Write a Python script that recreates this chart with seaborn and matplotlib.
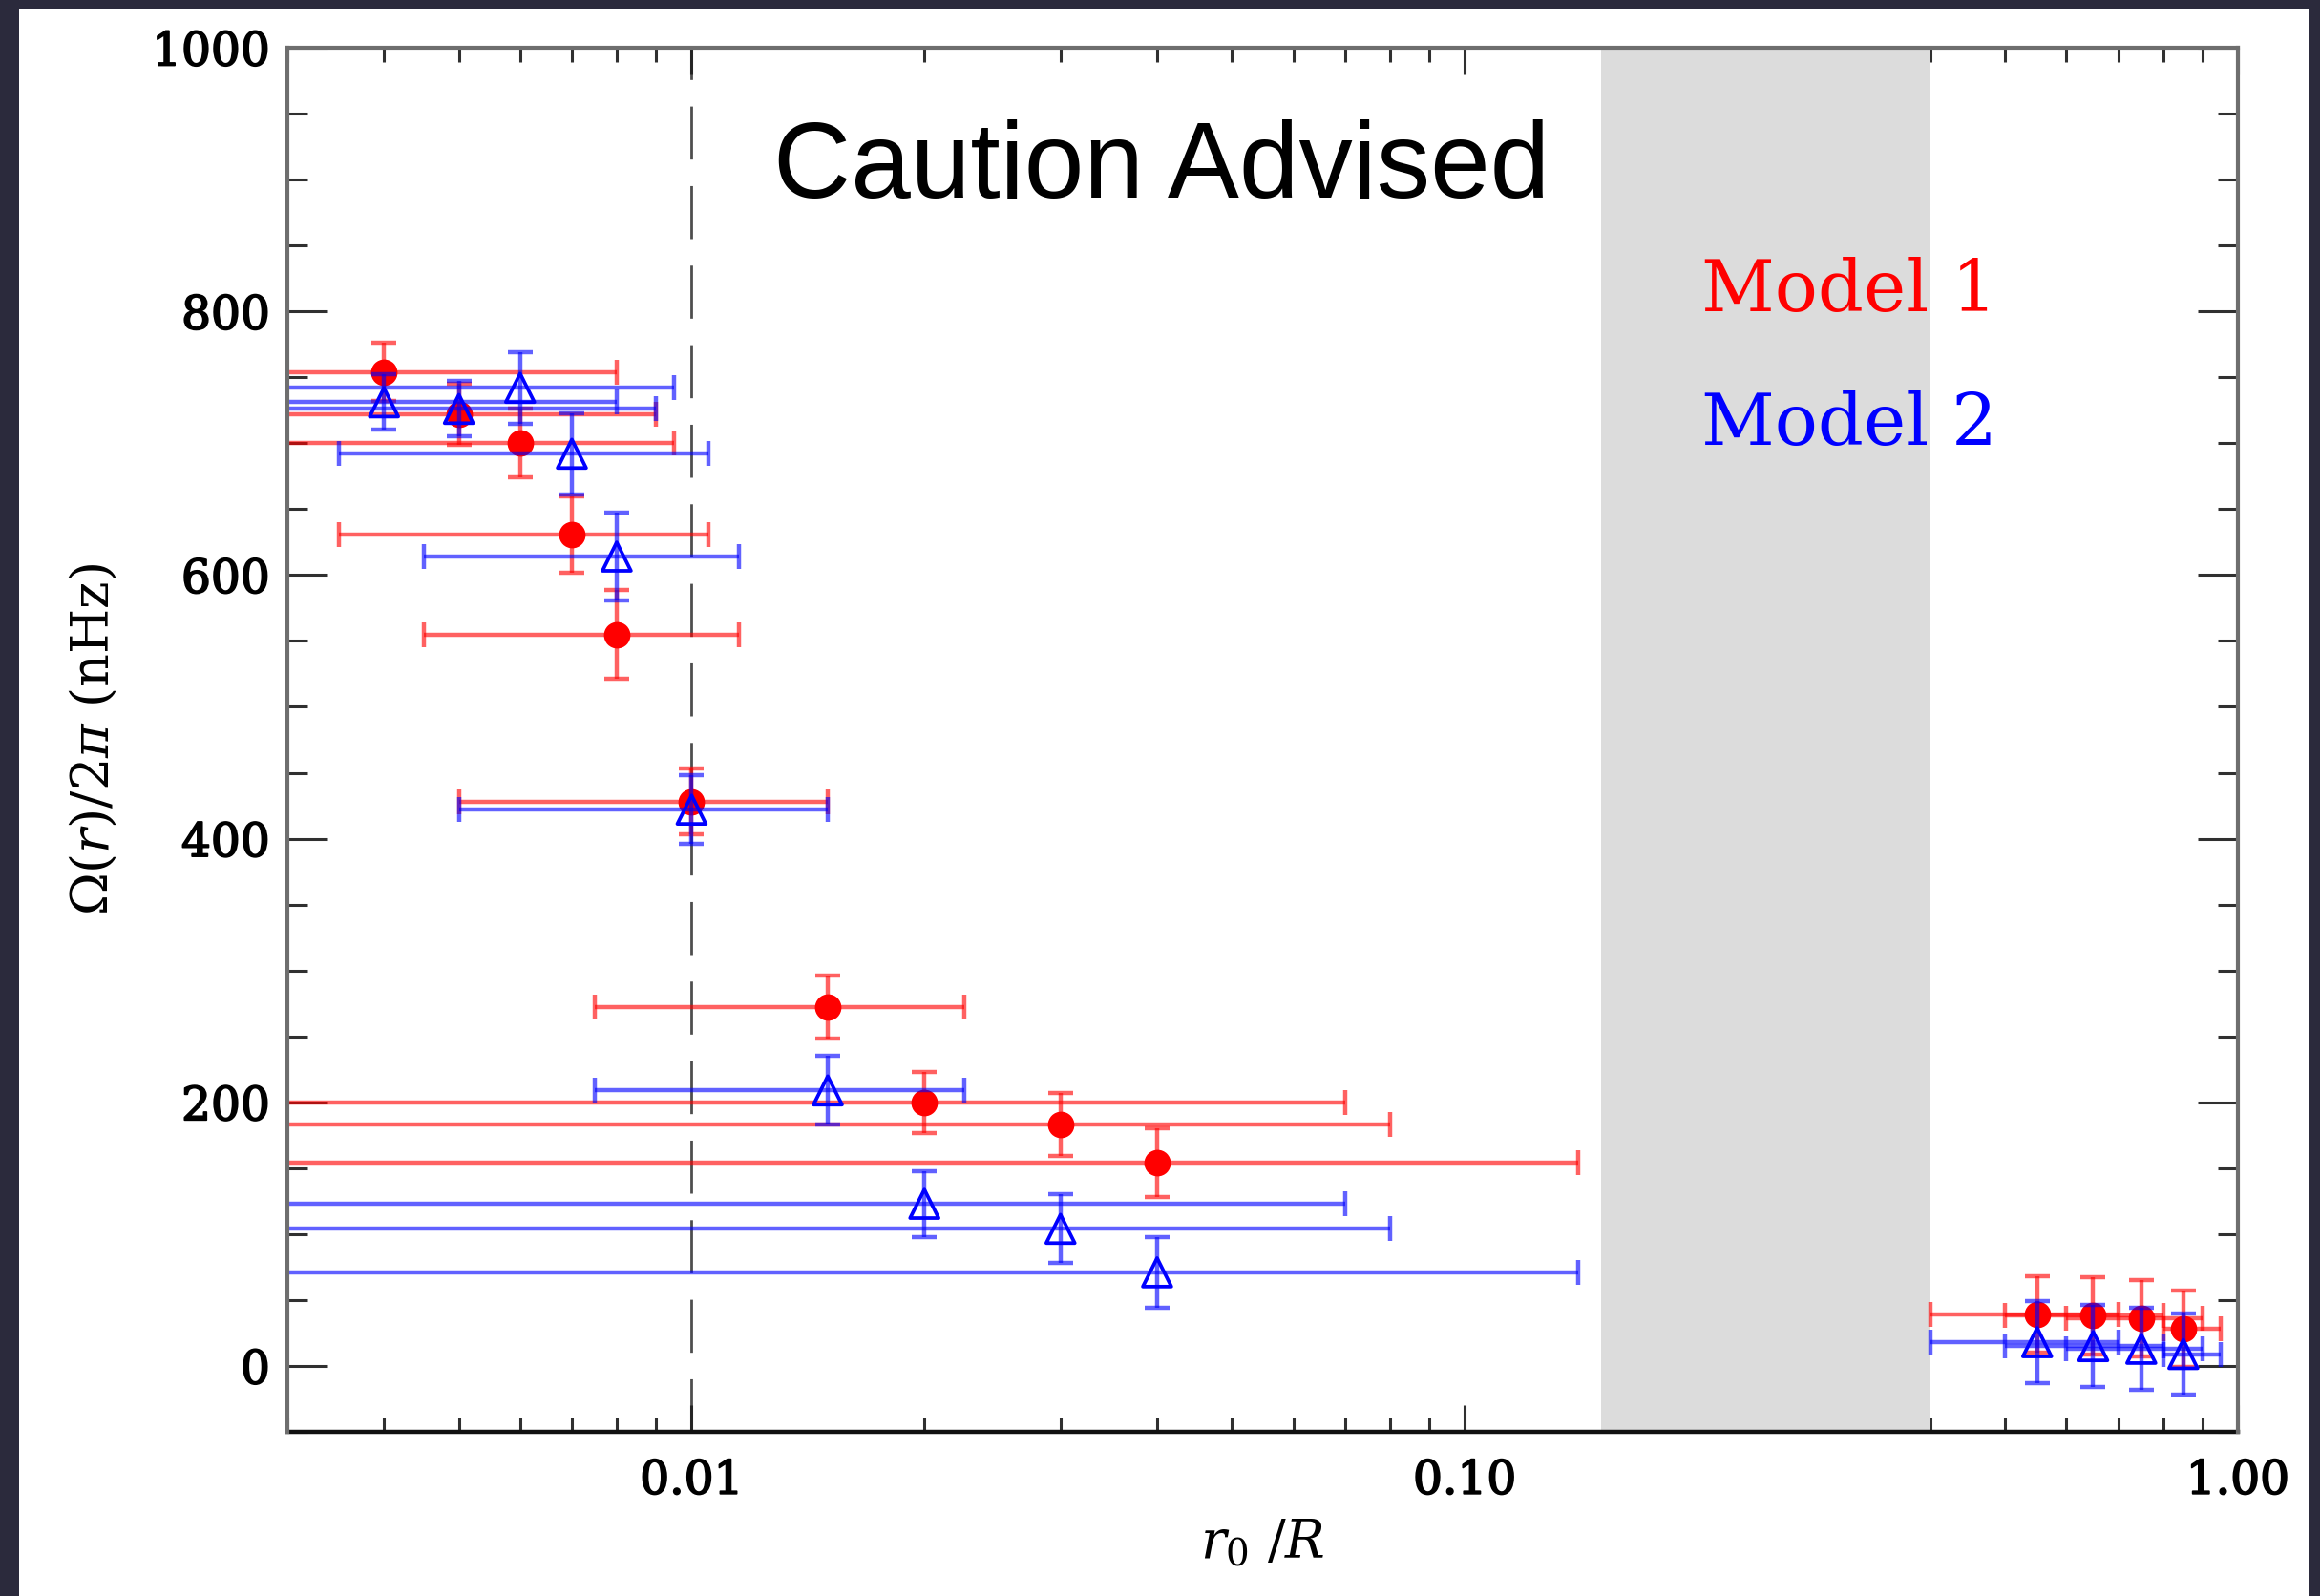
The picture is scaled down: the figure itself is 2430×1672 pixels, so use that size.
import numpy as np
import pandas as pd
import matplotlib
matplotlib.use("Agg")
import matplotlib.pyplot as plt
import matplotlib.patheffects as pe
import seaborn as sns
from matplotlib.patches import Rectangle
from matplotlib.ticker import FixedLocator, FixedFormatter, LogLocator, NullFormatter, MultipleLocator

# ---------------- data ----------------
r0 = [0.004, 0.005, 0.006, 0.007, 0.008, 0.010, 0.015, 0.020, 0.030, 0.040, 0.55, 0.65, 0.75, 0.85]
r0_lo = [0.001, 0.001, 0.0025, 0.0035, 0.0045, 0.005, 0.0075, 0.001, 0.001, 0.001, 0.40, 0.50, 0.60, 0.80]
r0_hi = [0.008, 0.009, 0.0095, 0.0105, 0.0115, 0.015, 0.0225, 0.070, 0.080, 0.140, 0.70, 0.80, 0.90, 0.95]

omega_m1 = [754, 722, 700, 631, 555, 428, 272, 200, 183, 154, 39, 38, 36, 28]
err_m1 = [22, 23, 26, 29, 34, 25, 24, 23, 24, 26, 29, 29, 29, 29]

omega_m2 = [731, 726, 742, 692, 614, 422, 209, 123, 104, 71, 18, 15, 13, 9]
err_m2 = [21, 21, 27, 31, 33, 26, 26, 25, 26, 27, 31, 31, 31, 31]

model_names = ["Model 1", "Model 2"]
y_ticks = [0, 200, 400, 600, 800, 1000]
x_ticks = [0.01, 0.1, 1.0]
x_tick_labels = ["0.01", "0.10", "1.00"]
caution_zone = [0.15, 0.4]
resolution_limit = 0.01
annotation = "Caution Advised"

df = pd.DataFrame({
    "r0": r0 * 2,
    "lo": r0_lo * 2,
    "hi": r0_hi * 2,
    "omega": omega_m1 + omega_m2,
    "err": err_m1 + err_m2,
    "model": [model_names[0]] * len(r0) + [model_names[1]] * len(r0),
})

# ---------------- style ----------------
sns.set_theme(style="ticks")
plt.rcParams["font.family"] = ["DejaVu Serif"]
plt.rcParams["mathtext.fontset"] = "dejavuserif"

W, H = 2430, 1672
fig = plt.figure(figsize=(W / 100, H / 100), dpi=100, facecolor="#2b2a3c")
fig.add_artist(Rectangle((20 / W, 0), (2418 - 20) / W, (H - 9) / H,
                         transform=fig.transFigure, facecolor="white",
                         edgecolor="none", zorder=0))

L, R, T, B = 301, 2344, 50, 1500
ax = fig.add_axes([L / W, 1 - B / H, (R - L) / W, (B - T) / H])
ax.set_facecolor("white")
ax.set_xscale("log")
ax.set_xlim(0.003, 1.0)
ax.set_ylim(-50, 1000)

ax.axvspan(caution_zone[0], caution_zone[1], color="#dcdcdc", lw=0, zorder=2.05)
ax.axvline(resolution_limit, color="#222222", lw=2, alpha=0.8, dashes=(20, 10), zorder=1.5)

styles = {
    "Model 1": dict(color="red", marker="o", s=20 ** 2, fill=True),
    "Model 2": dict(color="blue", marker="^", s=21.5 ** 2, fill=False),
}
z = 3
for name in model_names:
    d = df[df["model"] == name]
    st = styles[name]
    xerr = np.vstack([d["r0"] - d["lo"], d["hi"] - d["r0"]])
    ax.errorbar(d["r0"], d["omega"], xerr=xerr, yerr=d["err"], fmt="none",
                ecolor=st["color"], elinewidth=3.2, capsize=9.5, capthick=3.2,
                alpha=0.62, zorder=z)
    if st["fill"]:
        sns.scatterplot(x=d["r0"].values, y=d["omega"].values, ax=ax,
                        marker=st["marker"], s=st["s"], color=st["color"],
                        linewidth=0, zorder=z + 1, legend=False)
    else:
        sns.scatterplot(x=d["r0"].values, y=d["omega"].values, ax=ax,
                        marker=st["marker"], s=st["s"], facecolors="none",
                        edgecolors=st["color"], linewidths=2.7,
                        zorder=z + 1, legend=False)
    z += 2

# ---------------- axes ----------------
ax.xaxis.set_major_locator(FixedLocator(x_ticks))
ax.xaxis.set_major_formatter(FixedFormatter(x_tick_labels))
ax.xaxis.set_minor_locator(LogLocator(base=10, subs=np.arange(2, 10), numticks=20))
ax.xaxis.set_minor_formatter(NullFormatter())
ax.yaxis.set_major_locator(FixedLocator(y_ticks))
ax.yaxis.set_minor_locator(MultipleLocator(50))

tick_col = "#303030"
ax.tick_params(axis="y", which="major", direction="in", length=30, width=2.2,
               color=tick_col, left=True, right=True, pad=13, labelsize=35,
               labelcolor="black")
ax.tick_params(axis="y", which="minor", direction="in", length=15, width=2.2,
               color=tick_col, left=True, right=True)
ax.tick_params(axis="x", which="major", direction="in", length=20, width=2.2,
               color=tick_col, bottom=True, top=True, pad=20, labelsize=35,
               labelcolor="black")
ax.tick_params(axis="x", which="minor", direction="in", length=11, width=2.2,
               color=tick_col, bottom=True, top=True)

bold_fx = [pe.withStroke(linewidth=1.3, foreground="black")]
for lab in ax.get_xticklabels() + ax.get_yticklabels():
    lab.set_path_effects(bold_fx)

for side in ["left", "right", "top"]:
    ax.spines[side].set_color("#6e6e6e")
    ax.spines[side].set_linewidth(3.0)
    ax.spines[side].set_zorder(6)
ax.spines["bottom"].set_color("#111111")
ax.spines["bottom"].set_linewidth(3.2)

ax.set_ylabel(r"$\Omega(r)/2\pi$ (nHz)", fontsize=39, color="black", va="center")
ax.yaxis.set_label_coords(-0.0998, 0.5)
ax.set_xlabel(r"$r_0\ /R$", fontsize=40, color="black", va="baseline")
ax.xaxis.set_label_coords(0.5, -0.0917)

ax.text(0.4484, 0.8917, annotation, transform=ax.transAxes, ha="center",
        va="baseline", fontsize=81, family="Liberation Sans", color="black",
        zorder=10)
ax.text(0.7249, 0.8097, model_names[0], transform=ax.transAxes, ha="left",
        va="baseline", fontsize=54, family="DejaVu Serif", color="red", zorder=10)
ax.text(0.7249, 0.7131, model_names[1], transform=ax.transAxes, ha="left",
        va="baseline", fontsize=54, family="DejaVu Serif", color="blue", zorder=10)

fig.savefig("out.png", dpi=100, facecolor=fig.get_facecolor())
